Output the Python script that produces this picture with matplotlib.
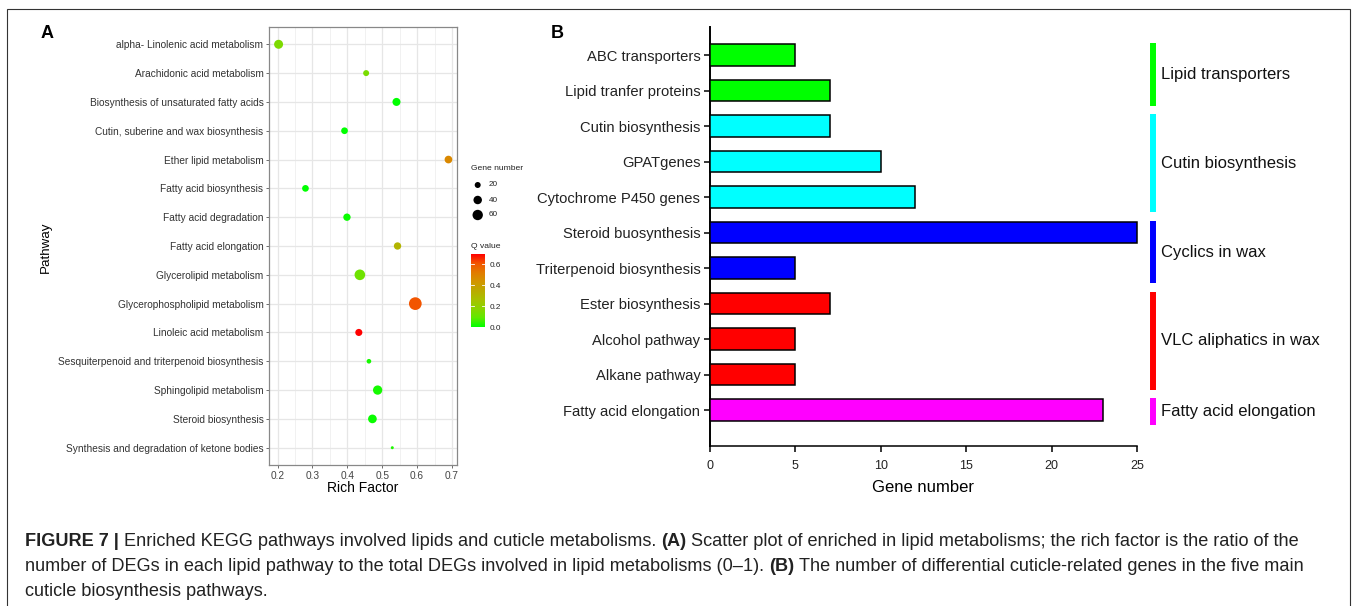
import numpy as np
import matplotlib
matplotlib.use("Agg")
import matplotlib.pyplot as plt
from matplotlib.colors import LinearSegmentedColormap, Normalize
from matplotlib.cm import ScalarMappable
from matplotlib.patches import Rectangle

# ---------------- data: panel A ----------------
pathways = [
    "alpha- Linolenic acid metabolism",
    "Arachidonic acid metabolism",
    "Biosynthesis of unsaturated fatty acids",
    "Cutin, suberine and wax biosynthesis",
    "Ether lipid metabolism",
    "Fatty acid biosynthesis",
    "Fatty acid degradation",
    "Fatty acid elongation",
    "Glycerolipid metabolism",
    "Glycerophospholipid metabolism",
    "Linoleic acid metabolism",
    "Sesquiterpenoid and triterpenoid biosynthesis",
    "Sphingolipid metabolism",
    "Steroid biosynthesis",
    "Synthesis and degradation of ketone bodies",
]
rich_factor = [0.203, 0.454, 0.541, 0.392, 0.690, 0.280, 0.399, 0.544,
               0.436, 0.595, 0.433, 0.462, 0.487, 0.472, 0.529]
gene_number = [45, 20, 36, 25, 33, 25, 30, 30, 63, 90, 28, 12, 48, 42, 5]
q_value = [0.15, 0.14, 0.0, 0.0, 0.48, 0.0, 0.01, 0.31, 0.12, 0.61, 0.70,
           0.02, 0.02, 0.01, 0.03]
size_legend = [20, 40, 60]
q_ticks = [0.0, 0.2, 0.4, 0.6]
rich_ticks = [0.2, 0.3, 0.4, 0.5, 0.6, 0.7]

# ---------------- data: panel B ----------------
bar_labels = ["ABC transporters", "Lipid tranfer proteins", "Cutin biosynthesis",
              "GPATgenes", "Cytochrome P450 genes", "Steroid buosynthesis",
              "Triterpenoid biosynthesis", "Ester biosynthesis", "Alcohol pathway",
              "Alkane pathway", "Fatty acid elongation"]
bar_values = [5, 7, 7, 10, 12, 25, 5, 7, 5, 5, 23]
bar_group = [0, 0, 1, 1, 1, 2, 2, 3, 3, 3, 4]
group_names = ["Lipid transporters", "Cutin biosynthesis", "Cyclics in wax",
               "VLC aliphatics in wax", "Fatty acid elongation"]
group_colors = ["#00FF00", "#00FFFF", "#0000FF", "#FF0000", "#FF00FF"]
gene_ticks = [0, 5, 10, 15, 20, 25]

caption_lines = [
    [("FIGURE 7 |", "bold"),
     ("Enriched KEGG pathways involved lipids and cuticle metabolisms.", "normal"),
     ("(A)", "bold"),
     ("Scatter plot of enriched in lipid metabolisms; the rich factor is the ratio of the", "normal")],
    [("number of DEGs in each lipid pathway to the total DEGs involved in lipid metabolisms (0\u20131).", "normal"),
     ("(B)", "bold"),
     ("The number of differential cuticle-related genes in the five main", "normal")],
    [("cuticle biosynthesis pathways.", "normal")],
]

# ---------------- figure ----------------
W, H = 1358, 606
fig = plt.figure(figsize=(W / 100, H / 100), dpi=100)
plt.rcParams['font.family'] = ['Liberation Sans', 'DejaVu Sans']


def fx(x):
    return x / W


def fy(y):
    return 1 - y / H


def size_map(n):
    return np.asarray(n, dtype=float) * 0.93


cmap = LinearSegmentedColormap.from_list(
    "gr", [(0.0, "#00FF00"), (0.125, "#5FE900"), (0.25, "#8AD400"),
           (0.375, "#A8C000"), (0.5, "#BBAA00"), (0.625, "#D29500"),
           (0.75, "#E27A00"), (0.875, "#F25500"), (1.0, "#FF0000")])
norm = Normalize(vmin=0, vmax=0.7)

# ---------- Panel A ----------
axA = fig.add_axes([fx(269), fy(465), fx(457 - 269), (465 - 27) / H])
ypos = np.arange(len(pathways))
axA.scatter(rich_factor, ypos, s=size_map(gene_number), c=q_value, cmap=cmap,
            norm=norm, edgecolors='none', zorder=3)
axA.set_xlim(0.1755, 0.7145)
axA.set_ylim(len(pathways) - 1 + 0.6, -0.6)
axA.set_yticks(ypos)
axA.set_yticklabels(pathways)
axA.set_xticks(rich_ticks)
axA.set_xticklabels([f"{t:.1f}" for t in rich_ticks])
axA.set_xticks(np.arange(0.25, 0.7, 0.1), minor=True)
axA.grid(which='major', color='#E6E6E6', lw=0.9, zorder=0)
axA.grid(which='minor', axis='x', color='#EFEFEF', lw=0.6, zorder=0)
axA.set_axisbelow(True)
axA.tick_params(axis='y', which='major', labelsize=7.3, colors='#555555',
                labelcolor='#333333', length=2.5, width=0.6, pad=1.5)
axA.tick_params(axis='x', which='major', labelsize=7.3, colors='#555555',
                labelcolor='#444444', length=2.5, width=0.6, pad=1.5)
axA.tick_params(axis='x', which='minor', length=0)
for s in axA.spines.values():
    s.set_color('#888888')
    s.set_linewidth(0.9)
axA.set_xlabel("Rich Factor", fontsize=10, labelpad=0.5)
fig.text(fx(46), fy(247), "Pathway", rotation=90, fontsize=9.6, ha='center', va='center')

# size legend
fig.text(fx(471), fy(169), "Gene number", fontsize=6.1, ha='left', va='center', color='#222222')
axL = fig.add_axes([0, 0, 1, 1], zorder=-1)
axL.set_xlim(0, W)
axL.set_ylim(H, 0)
axL.axis('off')
leg_y = [185, 200, 215]
axL.scatter([477.7] * len(size_legend), leg_y, s=size_map(size_legend), color='black',
            edgecolors='none')
for yy, n in zip(leg_y, size_legend):
    fig.text(fx(489), fy(yy), str(n), fontsize=5.9, ha='left', va='center', color='#222222')

# colorbar
fig.text(fx(471), fy(246), "Q value", fontsize=6.1, ha='left', va='center', color='#222222')
cax = fig.add_axes([fx(470.7), fy(327), fx(14.3), 73 / H])
cb = fig.colorbar(ScalarMappable(norm=norm, cmap=cmap), cax=cax)
cb.outline.set_visible(False)
cb.set_ticks(q_ticks)
cb.set_ticklabels([f"{t:.1f}" for t in q_ticks])
cax.tick_params(length=0, labelsize=5.9, labelcolor='#222222', pad=3.5)
for t in q_ticks:
    cax.plot([0, 0.2], [t, t], color='white', lw=0.6, transform=cax.get_yaxis_transform())
    cax.plot([0.8, 1.0], [t, t], color='white', lw=0.6, transform=cax.get_yaxis_transform())

# ---------- Panel B ----------
axB = fig.add_axes([fx(710), fy(446), fx(1137 - 710), (446 - 27) / H])
bpos = np.arange(len(bar_labels))
bcolors = [group_colors[g] for g in bar_group]
axB.barh(bpos, bar_values, height=0.6, color=bcolors, edgecolor='black',
         linewidth=1.1, clip_on=False, zorder=3)
axB.set_xlim(0, 25)
axB.set_ylim(len(bar_labels) - 1 + 1.01, -0.79)
axB.set_yticks(bpos)
axB.set_yticklabels(bar_labels)
axB.set_xticks(gene_ticks)
axB.tick_params(axis='y', labelsize=10.6, length=4, width=1.1, pad=3, labelcolor='#222222')
axB.tick_params(axis='x', labelsize=9, length=4.5, width=1.1, pad=5.5, labelcolor='#222222')
for side in ['top', 'right']:
    axB.spines[side].set_visible(False)
axB.spines['left'].set_linewidth(1.4)
axB.spines['bottom'].set_linewidth(1.1)
axB.spines['bottom'].set_bounds(0, 25)
axB.set_xlabel("Gene number", fontsize=12, labelpad=6)

# group brackets
trans = axB.get_yaxis_transform()
xbar = (1152.7 - 710) / (1137 - 710)
xtxt = (1161 - 710) / (1137 - 710)
for g, name in enumerate(group_names):
    idx = [i for i, bg in enumerate(bar_group) if bg == g]
    y0, y1 = min(idx) - 0.33, max(idx) + 0.43
    axB.plot([xbar, xbar], [y0, y1], color=group_colors[g], lw=4.3,
             solid_capstyle='butt', transform=trans, clip_on=False)
    axB.text(xtxt, (y0 + y1) / 2, name, transform=trans, fontsize=12,
             ha='left', va='center', color='#111111')

# panel letters
fig.text(fx(47), fy(34), "A", fontsize=13, fontweight='bold', ha='center', va='center')
fig.text(fx(557), fy(34), "B", fontsize=13, fontweight='bold', ha='center', va='center')

# outer frame
fig.patches.append(Rectangle((fx(7), -0.05), fx(1350 - 7), fy(9) + 0.05,
                             transform=fig.transFigure, fill=False,
                             edgecolor='#333333', lw=0.8))

# ---------- caption ----------
cap_family = ['Liberation Sans Narrow', 'Liberation Sans', 'DejaVu Sans']
renderer = fig.canvas.get_renderer()


def text_width(s, weight, fs):
    t = fig.text(0, 0, s, fontsize=fs, fontweight=weight, family=cap_family)
    w = t.get_window_extent(renderer).width
    t.remove()
    return w


def line_width(segs, fs):
    sp = text_width("a a", "normal", fs) - text_width("aa", "normal", fs)
    return sum(text_width(s, w, fs) for s, w in segs) + sp * (len(segs) - 1)


fs0 = 12
w0 = line_width(caption_lines[0], fs0)
cap_fs = fs0 * (1300 - 25) / w0
space = text_width("a a", "normal", cap_fs) - text_width("aa", "normal", cap_fs)
for li, segs in enumerate(caption_lines):
    x = 25
    ybase = 546 + 25 * li
    for s, w in segs:
        fig.text(fx(x), fy(ybase), s, fontsize=cap_fs, fontweight=w,
                 family=cap_family, ha='left', va='baseline', color='#222222')
        x += text_width(s, w, cap_fs) + space

fig.savefig("out.png", dpi=100)
